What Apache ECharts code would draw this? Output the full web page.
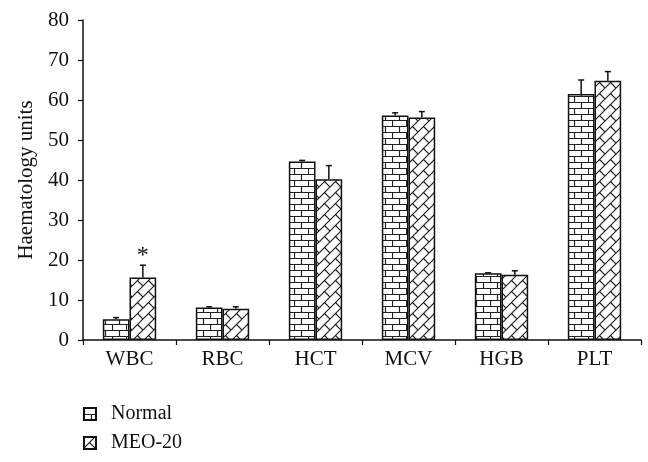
<!DOCTYPE html>
<html><head><meta charset="utf-8">
<script src="https://cdn.jsdelivr.net/npm/echarts@6/dist/echarts.min.js"></script>
<style>html,body{margin:0;padding:0;background:#fff}#c{width:648px;height:462px}</style>
</head><body><div id="c"></div>
<script>
const categories = ['WBC','RBC','HCT','MCV','HGB','PLT'];
const normalValues = [5.2, 8.1, 44.6, 56.1, 16.7, 61.5];
const normalErrors = [0.4, 0.2, 0.3, 0.7, 0.1, 3.5];
const meoValues = [15.6, 7.8, 40.2, 55.6, 16.3, 64.8];
const meoErrors = [3.1, 0.5, 3.4, 1.5, 1.0, 2.3];
const meoMarks = ['*', '', '', '', '', ''];
const yTicks = [0, 10, 20, 30, 40, 50, 60, 70, 80];

const FONT = 'Liberation Serif';

function brickPattern() {
  const c = document.createElement('canvas');
  c.width = 14; c.height = 12;
  const g = c.getContext('2d');
  g.fillStyle = '#fff'; g.fillRect(0, 0, 14, 12);
  g.strokeStyle = '#222'; g.lineWidth = 1.2;
  g.beginPath();
  g.moveTo(0, 0.5); g.lineTo(14, 0.5);
  g.moveTo(0, 6.5); g.lineTo(14, 6.5);
  g.moveTo(0.5, 0); g.lineTo(0.5, 6);
  g.moveTo(7.5, 6); g.lineTo(7.5, 12);
  g.stroke();
  return c;
}
function herringPattern() {
  const S = 11;
  const h = S / Math.SQRT2, L = 2 * h;
  const c = document.createElement('canvas');
  c.width = S; c.height = S;
  const g = c.getContext('2d');
  g.fillStyle = '#fff'; g.fillRect(0, 0, S, S);
  g.strokeStyle = '#222'; g.lineWidth = 1.2;
  g.translate(S / 2, S / 2);
  g.rotate(-Math.PI / 4);
  g.beginPath();
  for (let r = -6; r <= 6; r++) {
    const y = r * h;
    g.moveTo(-60, y); g.lineTo(60, y);
    const off = ((r % 2) + 2) % 2 ? L / 2 : 0;
    for (let k = -6; k <= 6; k++) {
      const x = k * L + off;
      g.moveTo(x, y); g.lineTo(x, y + h);
    }
  }
  g.stroke();
  return c;
}

const chart = echarts.init(document.getElementById('c'), null, {renderer: 'canvas'});
const BW = 0.287;

function errItem(values, errors, marks, side) {
  return function (params, api) {
    const i = api.value(0);
    const v = api.value(1), e = api.value(2);
    const band = api.size([1, 0])[0];
    const base = api.coord([i, v]);
    const top = api.coord([i, v + e]);
    const x = base[0] + side * band * BW / 2;
    const children = [];
    if (e > 0) {
      children.push({type: 'line', shape: {x1: x, y1: base[1], x2: x, y2: top[1]}, style: {stroke: '#111', lineWidth: 1.5}});
      children.push({type: 'line', shape: {x1: x - 3, y1: top[1], x2: x + 3, y2: top[1]}, style: {stroke: '#111', lineWidth: 1.5}});
    }
    const m = marks ? marks[i] : '';
    if (m) {
      children.push({type: 'text', style: {text: m, x: x, y: top[1] + 3, align: 'center', verticalAlign: 'bottom', font: '24px "' + FONT + '"', fill: '#111'}});
    }
    return {type: 'group', children: children};
  };
}

chart.setOption({
  animation: false,
  backgroundColor: '#fff',
  grid: {left: 83, right: 7, top: 20, bottom: 122, containLabel: false},
  legend: {
    orient: 'vertical', left: 83, top: 404, itemGap: 9, padding: 0,
    itemWidth: 12, itemHeight: 12, icon: 'rect',
    textStyle: {fontFamily: FONT, fontSize: 20, lineHeight: 20, color: '#111', padding: [0, 0, 0, 10]},
    data: ['Normal', 'MEO-20']
  },
  xAxis: {
    type: 'category', data: categories,
    axisLine: {lineStyle: {color: '#111', width: 1.5}},
    axisTick: {show: true, inside: false, length: 5, lineStyle: {color: '#111', width: 1.2}},
    axisLabel: {fontFamily: FONT, fontSize: 21, color: '#111', margin: 9}
  },
  yAxis: {
    type: 'value', min: yTicks[0], max: yTicks[yTicks.length - 1], interval: 10,
    name: 'Haematology units', nameLocation: 'middle', nameGap: 46,
    nameTextStyle: {fontFamily: FONT, fontSize: 21, color: '#111'},
    axisLine: {show: true, lineStyle: {color: '#111', width: 1.5}},
    axisTick: {show: true, length: 5, lineStyle: {color: '#111', width: 1.2}},
    splitLine: {show: false},
    axisLabel: {fontFamily: FONT, fontSize: 21, color: '#111', margin: 14}
  },
  series: [
    {name: 'Normal', type: 'bar', data: normalValues, barWidth: (BW * 100) + '%', barGap: '0%',
      itemStyle: {color: {image: brickPattern(), repeat: 'repeat'}, borderColor: '#111', borderWidth: 1.5}},
    {name: 'MEO-20', type: 'bar', data: meoValues, barWidth: (BW * 100) + '%', barGap: '0%',
      itemStyle: {color: {image: herringPattern(), repeat: 'repeat'}, borderColor: '#111', borderWidth: 1.5}},
    {type: 'custom', name: 'errN', renderItem: errItem(normalValues, normalErrors, null, -1),
      data: normalValues.map((v, i) => [i, v, normalErrors[i]]), z: 5, silent: true},
    {type: 'custom', name: 'errM', renderItem: errItem(meoValues, meoErrors, meoMarks, 1),
      data: meoValues.map((v, i) => [i, v, meoErrors[i]]), z: 5, silent: true}
  ]
});
</script></body></html>
